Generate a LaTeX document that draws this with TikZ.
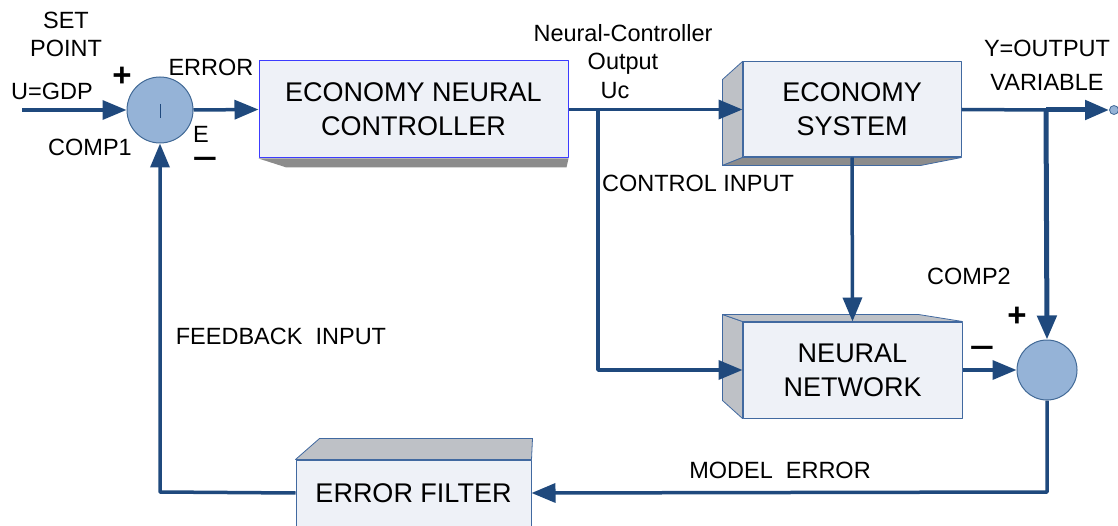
\documentclass[tikz,border=0pt]{standalone}
\usepackage{fontspec}
\setmainfont{Liberation Sans}
\usetikzlibrary{arrows.meta,calc}
\definecolor{linkblue}{RGB}{31,73,125}
\definecolor{sumfill}{RGB}{149,179,215}
\definecolor{sumline}{RGB}{65,105,150}
\definecolor{boxface}{RGB}{238,241,247}
\definecolor{boxline}{RGB}{65,105,160}
\definecolor{ctrlline}{RGB}{60,60,255}
\definecolor{sidegray}{RGB}{190,193,198}
\definecolor{shadegray}{RGB}{140,140,140}
\begin{document}
\begin{tikzpicture}[x=1pt,y=-1pt,line join=round,
	>={Triangle[length=24pt,width=19pt]},
	font=\fontsize{23.5}{28}\selectfont,
	block/.style={rectangle,draw=boxline,line width=1pt,fill=boxface,align=center,inner sep=0pt,font=\fontsize{27}{34}\selectfont},
	sum/.style={circle,draw=sumline,line width=1pt,fill=sumfill,minimum size=66pt,inner sep=0pt},
	link/.style={draw=linkblue,line width=3.5pt},
	side/.style={fill=sidegray,draw=boxline,line width=0.8pt},
	shade/.style={fill=shadegray,draw=boxline,line width=0.8pt},
	plussign/.style={inner sep=0pt,font=\fontsize{33}{33}\selectfont\bfseries},
	minussign/.style={inner sep=0pt,text height=14pt,text depth=0pt,font=\fontsize{44}{44}\selectfont}]
	\useasboundingbox (0,0) rectangle (1118,526);
	\clip (0,0) rectangle (1118,526);
	% blocks
	\node[block,draw=ctrlline,minimum width=309pt,minimum height=97pt] (enc) at (413.5,109.5) {ECONOMY NEURAL\\CONTROLLER};
	\node[block,minimum width=218pt,minimum height=95pt] (es) at (852,109.5) {ECONOMY\\SYSTEM};
	\node[block,minimum width=219pt,minimum height=96pt] (nn) at (852.5,370) {NEURAL\\NETWORK};
	\node[block,minimum width=235pt,minimum height=66pt] (ef) at (413.5,493) {ERROR FILTER};
	\node[sum] (comp1) at (160,110) {};
	\node[sum,minimum size=60pt] (comp2) at (1047,370) {};
	\draw[linkblue,line width=1pt] ($(comp1.center)+(0,-6)$)--($(comp1.center)+(0,8)$);
	% 3d faces
	\fill[shadegray] (enc.south west)--++(28,9)--($(enc.south east)+(-2,9)$)--(enc.south east)--cycle;
	\draw[side] (es.north west)--++(-20,18)--($(es.south west)+(-20,8)$)--(es.south west)--cycle;
	\draw[shade] (es.south west)--++(-20,8)--($(es.south east)+(-41,8)$)--(es.south east)--cycle;
	\draw[side] (nn.north west)--++(-20,-7)--($(nn.south west)+(-20,-18)$)--(nn.south west)--cycle;
	\draw[side] (nn.north west)--++(-20,-7)--($(nn.north east)+(-44,-7)$)--(nn.north east)--cycle;
	\draw[side] (ef.north west)--++(24,-21)--($(ef.north east)+(1,-21)$)--(ef.north east)--cycle;
	% junctions
	\coordinate (in) at (22,110);
	\coordinate (uc) at (598,110);
	\coordinate (ucdown) at (598,370);
	\coordinate (y) at (1046,110);
	\coordinate (out) at (1109,110);
	\coordinate (me) at (1047,492);
	\coordinate (fb) at (160,492);
	% connectors
	\draw[link,->] (in)--(comp1.west);
	\draw[link,->] (comp1.east)--(enc.west);
	\draw[link,->] (enc.east)--(es.west);
	\draw[link,->] (uc)--(ucdown)--(nn.west);
	\draw[link,->] (es.south)--(nn.north);
	\draw[link] (es.east)--(y);
	\draw[link,line width=5pt,->] (y)--(out);
	\draw[link,line width=5pt,->] (y)--(comp2.north);
	\draw[link,->] (nn.east)--(comp2.west);
	\draw[link,->] (comp2.south)--(me)--(ef.east);
	\draw[link,->] (ef.west)--(fb)--(comp1.south);
	\draw[draw=sumline,fill=sumfill,line width=0.8pt] ($(out)+(5,0)$) circle (4.5pt);
	% labels
	\node[align=center] (setpoint) at (66,34) {SET\\POINT};
	\node (gdp) at (52,91) {U=GDP};
	\node[plussign] (plus1) at (122,77) {+};
	\node (err) at (211,67) {ERROR};
	\node (c1) at (90,147) {COMP1};
	\node[inner sep=1pt] (e) at (201,134) {E};
	\node[minussign] (minus1) at (205,167) {−};
	\node[align=center] (ncout) at (623,49) {Neural-Controller\\Output};
	\node (ucl) at (615,91) {Uc};
	\node (ctrlin) at (698,183) {CONTROL INPUT};
	\node[align=center,font=\fontsize{23.5}{34}\selectfont] (yout) at (1047,65) {Y=OUTPUT\\VARIABLE};
	\node (c2) at (969,276) {COMP2};
	\node[plussign] (plus2) at (1017,317) {+};
	\node[minussign] (minus2) at (982,355) {−};
	\node (fbin) at (281,336) {FEEDBACK\ \ INPUT};
	\node (merr) at (780,470) {MODEL\ \ ERROR};
\end{tikzpicture}
\end{document}
